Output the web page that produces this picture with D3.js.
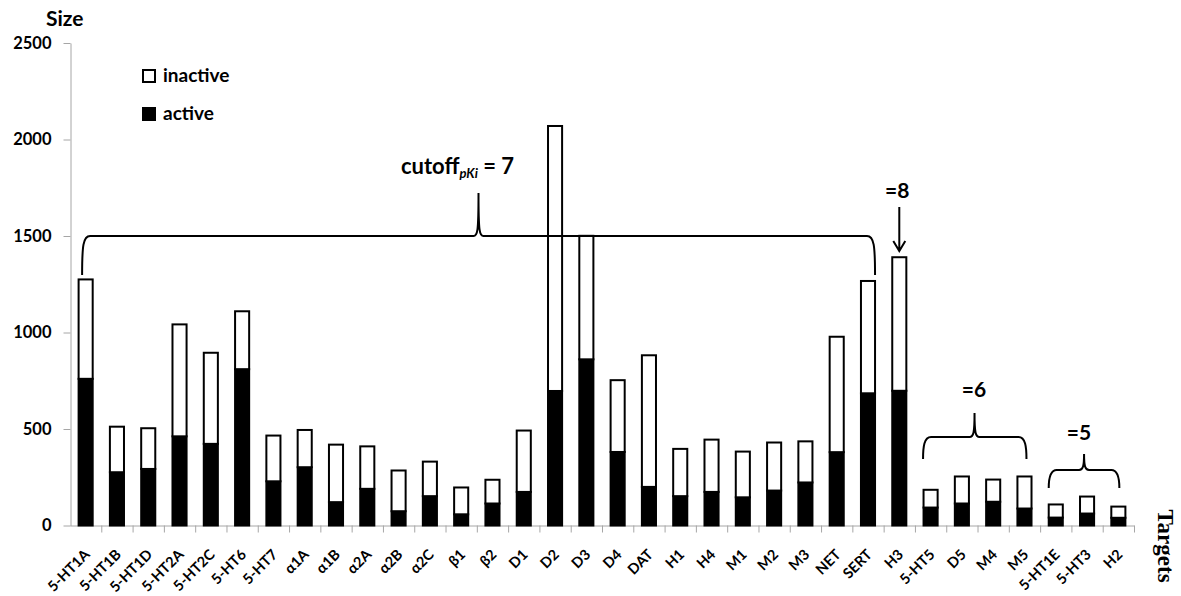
<!DOCTYPE html>
<html>
<head>
<meta charset="utf-8">
<script src="https://cdn.jsdelivr.net/npm/d3@7"></script>
<style>
  body { margin: 0; background: #fff; }
  text { font-family: Lato, "Open Sans", sans-serif; font-weight: bold; fill: #000; }
</style>
</head>
<body>
<div class="container"></div>
<script>
// targets, in drawing order
const targets = ['5-HT1A', '5-HT1B', '5-HT1D', '5-HT2A', '5-HT2C', '5-HT6', '5-HT7', 'α1A', 'α1B', 'α2A',
    'α2B', 'α2C', 'β1', 'β2', 'D1', 'D2', 'D3', 'D4', 'DAT', 'H1', 'H4', 'M1', 'M2', 'M3', 'NET', 'SERT',
    'H3', '5-HT5', 'D5', 'M4', 'M5', '5-HT1E', '5-HT3', 'H2'];
// active / inactive compound counts
const active = [760, 276, 293, 462, 423, 810, 229, 302, 121, 190,
    74, 152, 58, 114, 174, 697, 861, 381, 200, 152, 174, 146, 181, 223, 380, 685,
    698, 93, 114, 123, 88, 41, 62, 40];
const inactive = [515, 236, 211, 580, 472, 300, 237, 193, 298, 220,
    211, 179, 139, 123, 318, 1373, 640, 372, 682, 245, 271, 237, 249, 213, 598, 582,
    692, 92, 140, 115, 166, 68, 88, 58];
const yTicks = [0, 500, 1000, 1500, 2000, 2500];

const width = 1181,
    height = 596,
    x0 = 70, x1 = 1134,
    yBottom = 525.5, yTop = 43,
    axisColor = '#a6a6a6';

const svg = d3.select('.container').append('svg')
    .attr('width', width)
    .attr('height', height);

const x = d3.scaleBand().domain(targets).range([x0, x1]).paddingInner(0.55).paddingOuter(0.275);
const y = d3.scaleLinear().domain([0, 2500]).range([yBottom, yTop]);
// linear scale used only for tick marks between categories
const xEdge = d3.scaleLinear().domain([0, targets.length]).range([x0, x1]);

// y axis
const yAxis = svg.append('g')
    .attr('transform', `translate(${x0 + 0.5},0)`)
    .call(d3.axisLeft(y).tickValues(yTicks).tickFormat(d3.format('d')).tickSize(7).tickPadding(12).tickSizeOuter(0));
yAxis.selectAll('path, line').attr('stroke', axisColor);
yAxis.selectAll('text').style('font-size', '16.5px');

// x axis (ticks at category boundaries)
const xAxis = svg.append('g')
    .attr('transform', `translate(0,${yBottom})`)
    .call(d3.axisBottom(xEdge).tickValues(d3.range(1, targets.length + 1)).tickSize(7).tickFormat('').tickSizeOuter(0));
xAxis.selectAll('path, line').attr('stroke', axisColor);

// stacked bars
const rows = targets.map((t, i) => ({target: t, active: active[i], inactive: inactive[i]}));
const series = d3.stack().keys(['active', 'inactive'])(rows);
const fills = {active: '#000', inactive: '#fff'};

svg.append('g').selectAll('g').data(series).enter().append('g')
    .attr('fill', d => fills[d.key])
    .selectAll('rect').data(d => d).enter().append('rect')
    .attr('x', d => x(d.data.target))
    .attr('y', d => y(d[1]))
    .attr('width', x.bandwidth())
    .attr('height', d => y(d[0]) - y(d[1]))
    .attr('stroke', '#000')
    .attr('stroke-width', 2);

// x labels
svg.append('g').selectAll('text').data(targets).enter().append('text')
    .attr('transform', d => `translate(${x(d) + x.bandwidth() / 2 + 5},${yBottom + 30}) rotate(-45)`)
    .attr('text-anchor', 'end')
    .style('font-size', '14.5px')
    .text(d => d);

// axis titles
svg.append('text').attr('x', 46).attr('y', 26).style('font-size', '21px').text('Size');
svg.append('text')
    .attr('transform', 'translate(1158,546) rotate(90)')
    .attr('text-anchor', 'middle')
    .style('font-family', '"Liberation Serif", "DejaVu Serif", serif')
    .style('font-size', '23px')
    .text('Targets');

// legend
const legend = svg.append('g');
[['inactive', '#fff', 70], ['active', '#000', 108]].forEach(l => {
    legend.append('rect')
        .attr('x', 143).attr('y', l[2])
        .attr('width', 12).attr('height', 12)
        .attr('fill', l[1]).attr('stroke', '#000').attr('stroke-width', 2);
    legend.append('text')
        .attr('x', 163).attr('y', l[2] + 12)
        .style('font-size', '19px')
        .text(l[0]);
});

// curly brace from xa to xb, horizontal at yh, ends down at ye, cusp at (xm, yc)
function brace(xa, xb, yh, ye, xm, yc) {
    const p = d3.path();
    p.moveTo(xa, ye);
    p.bezierCurveTo(xa, yh + 10, xa + 1, yh, xa + 8, yh);
    p.lineTo(xm - 5, yh);
    p.bezierCurveTo(xm - 1, yh, xm, yh - 4, xm, yc);
    p.moveTo(xm, yc);
    p.bezierCurveTo(xm, yh - 4, xm + 1, yh, xm + 5, yh);
    p.lineTo(xb - 8, yh);
    p.bezierCurveTo(xb - 1, yh, xb, yh + 10, xb, ye);
    svg.append('path').attr('d', p.toString())
        .attr('fill', 'none').attr('stroke', '#000').attr('stroke-width', 2);
}
const bw = x.bandwidth();
const mid = t => x(t) + bw / 2;

// cutoff = 7 group
brace(x('5-HT1A') + 3.5, x('SERT') + bw, y(1500), 275, 478.5, 193);
const cut = svg.append('text').attr('x', 401).attr('y', 174).style('font-size', '22px');
cut.append('tspan').text('cutoff');
cut.append('tspan').attr('dy', 4).style('font-size', '13px').style('font-style', 'italic').text('pKi');
cut.append('tspan').attr('dy', -4).text(' = 7');

// =8 arrow
const ax = mid('H3');
svg.append('text').attr('x', ax - 2).attr('y', 198).attr('text-anchor', 'middle').style('font-size', '21px').text('=8');
svg.append('path')
    .attr('d', `M${ax},207 L${ax},250 M${ax - 6},241 L${ax},251 L${ax + 6},241`)
    .attr('fill', 'none').attr('stroke', '#000').attr('stroke-width', 2);

// =6 group
brace(x('5-HT5') - 0.5, mid('M5') + 2, 437, 459, (mid('5-HT5') + mid('M5')) / 2 - 3, 413);
svg.append('text').attr('x', 974).attr('y', 397).attr('text-anchor', 'middle').style('font-size', '21px').text('=6');

// =5 group
brace(x('5-HT1E'), mid('H2') + 1, 470, 488, (mid('5-HT1E') + mid('H2')) / 2 - 3, 454);
svg.append('text').attr('x', 1079).attr('y', 440).attr('text-anchor', 'middle').style('font-size', '21px').text('=5');
</script>
</body>
</html>
